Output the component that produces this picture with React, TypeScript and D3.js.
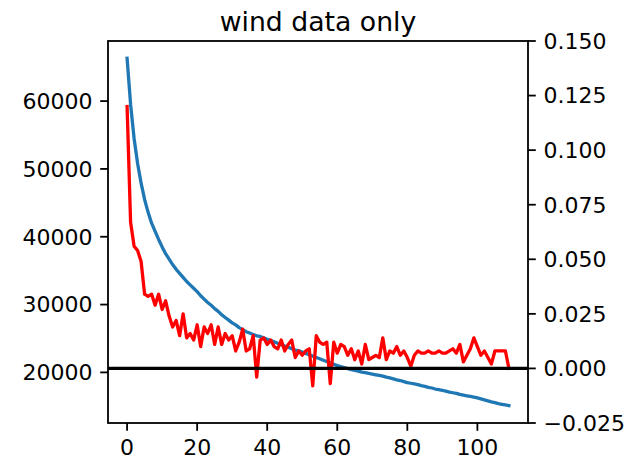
import React from 'react';
import * as d3 from 'd3';

// blue series (left axis), one value per step 0..109
const blueValues: number[] = [
  66300, 59500, 54500, 50800, 47900, 45500, 43600, 42000, 40800, 39600,
  38500, 37500, 36700, 35900, 35200, 34600, 34000, 33400, 32900, 32400,
  31900, 31300, 30800, 30300, 29900, 29400, 29000, 28500, 28100, 27700,
  27300, 27000, 26600, 26300, 26000, 25800, 25600, 25400, 25300, 25100,
  24900, 24700, 24500, 24300, 24100, 23900, 23700, 23500, 23300, 23200,
  23000, 22800, 22600, 22400, 22200, 22000, 21800, 21600, 21400, 21200,
  21000, 20850, 20700, 20550, 20400, 20300, 20200, 20050, 19950, 19850,
  19750, 19650, 19550, 19450, 19300, 19200, 19050, 18900, 18800, 18650,
  18500, 18400, 18300, 18200, 18050, 17950, 17800, 17700, 17550, 17450,
  17350, 17250, 17100, 17000, 16900, 16750, 16650, 16550, 16450, 16350,
  16250, 16100, 15950, 15800, 15650, 15550, 15400, 15300, 15200, 15100,
];

// red series (right axis)
const redValues: number[] = [
  0.120, 0.067, 0.056, 0.054, 0.049, 0.034, 0.033, 0.034, 0.029, 0.034,
  0.027, 0.031, 0.024, 0.019, 0.022, 0.015, 0.025, 0.014, 0.016, 0.013,
  0.020, 0.010, 0.019, 0.016, 0.020, 0.011, 0.019, 0.011, 0.016, 0.013,
  0.015, 0.008, 0.012, 0.018, 0.008, 0.009, 0.015, -0.004, 0.013, 0.014,
  0.011, 0.013, 0.010, 0.009, 0.013, 0.008, 0.011, 0.013, 0.005, 0.008,
  0.006, 0.008, 0.009, -0.008, 0.015, 0.012, 0.011, 0.012, -0.007, 0.012,
  0.007, 0.011, 0.010, 0.006, 0.009, 0.004, 0.008, 0.002, 0.011, 0.004,
  0.005, 0.006, 0.005, 0.014, 0.004, 0.008, 0.007, 0.010, 0.006, 0.008,
  0.005, 0.001, 0.006, 0.008, 0.007, 0.007, 0.008, 0.007, 0.007, 0.008,
  0.007, 0.007, 0.008, 0.009, 0.007, 0.011, 0.003, 0.006, 0.009, 0.014,
  0.010, 0.006, 0.008, 0.005, 0.002, 0.008, 0.008, 0.008, 0.008, 0.000,
];

const xTicks = [0, 20, 40, 60, 80, 100];
const leftTicks = [20000, 30000, 40000, 50000, 60000];
const rightTicks = [-0.025, 0, 0.025, 0.05, 0.075, 0.1, 0.125, 0.15];
const title = 'wind data only';

const App = () => {
  const ref = React.useRef<SVGSVGElement>(null);

  React.useEffect(() => {
    const svg = d3.select(ref.current);
    svg.selectAll('*').remove();

    const left = 108, right = 528, top = 41, bottom = 423;
    const font = 'DejaVu Sans, sans-serif';
    const tickLen = 7.8;

    const n = blueValues.length;
    const xPad = (n - 1) * 0.05;
    const x = d3.scaleLinear().domain([-xPad, n - 1 + xPad]).range([left, right]);

    const bMin = d3.min(blueValues)!, bMax = d3.max(blueValues)!;
    const bPad = (bMax - bMin) * 0.05;
    const yL = d3.scaleLinear().domain([bMin - bPad, bMax + bPad]).range([bottom, top]);
    const yR = d3.scaleLinear().domain([-0.025, 0.15]).range([bottom, top]);

    const idx = d3.range(n);

    // blue line
    svg.append('path')
      .attr('d', d3.line<number>().x(i => x(i)).y(i => yL(blueValues[i]))(idx)!)
      .attr('fill', 'none')
      .attr('stroke', '#1f77b4')
      .attr('stroke-width', 3.3)
      .attr('stroke-linejoin', 'round')
      .attr('stroke-linecap', 'square');

    // red line
    svg.append('path')
      .attr('d', d3.line<number>().x(i => x(i)).y(i => yR(redValues[i]))(idx)!)
      .attr('fill', 'none')
      .attr('stroke', '#ff0000')
      .attr('stroke-width', 3.3)
      .attr('stroke-linejoin', 'round')
      .attr('stroke-linecap', 'square');

    // zero line
    svg.append('line')
      .attr('x1', left).attr('x2', right)
      .attr('y1', yR(0)).attr('y2', yR(0))
      .attr('stroke', 'black')
      .attr('stroke-width', 3.3);

    // spines
    svg.append('rect')
      .attr('x', left).attr('y', top)
      .attr('width', right - left).attr('height', bottom - top)
      .attr('fill', 'none')
      .attr('stroke', 'black')
      .attr('stroke-width', 1.8);

    const g = svg.append('g').style('font-family', font).style('font-size', '22px').attr('fill', 'black');

    // x ticks
    xTicks.forEach(t => {
      g.append('line')
        .attr('x1', x(t)).attr('x2', x(t))
        .attr('y1', bottom).attr('y2', bottom + tickLen)
        .attr('stroke', 'black').attr('stroke-width', 1.8);
      g.append('text')
        .attr('x', x(t)).attr('y', bottom + tickLen + 24)
        .attr('text-anchor', 'middle')
        .text(String(t));
    });

    // left ticks
    leftTicks.forEach(t => {
      g.append('line')
        .attr('x1', left - tickLen).attr('x2', left)
        .attr('y1', yL(t)).attr('y2', yL(t))
        .attr('stroke', 'black').attr('stroke-width', 1.8);
      g.append('text')
        .attr('x', left - tickLen - 7.8).attr('y', yL(t))
        .attr('dy', '0.36em')
        .attr('text-anchor', 'end')
        .text(String(t));
    });

    // right ticks
    rightTicks.forEach(t => {
      g.append('line')
        .attr('x1', right).attr('x2', right + tickLen)
        .attr('y1', yR(t)).attr('y2', yR(t))
        .attr('stroke', 'black').attr('stroke-width', 1.8);
      g.append('text')
        .attr('x', right + tickLen + 7.8).attr('y', yR(t))
        .attr('dy', '0.36em')
        .attr('text-anchor', 'start')
        .text(t < 0 ? '\u2212' + Math.abs(t).toFixed(3) : t.toFixed(3));
    });

    svg.append('text')
      .attr('x', (left + right) / 2).attr('y', 31)
      .attr('text-anchor', 'middle')
      .style('font-family', font)
      .style('font-size', '26.7px')
      .text(title);
  }, []);

  return (
    <svg
      ref={ref}
      width={630}
      height={466}
      style={{ position: 'absolute', left: 0, top: 0, background: 'white' }}
    />
  );
};

export default App;
